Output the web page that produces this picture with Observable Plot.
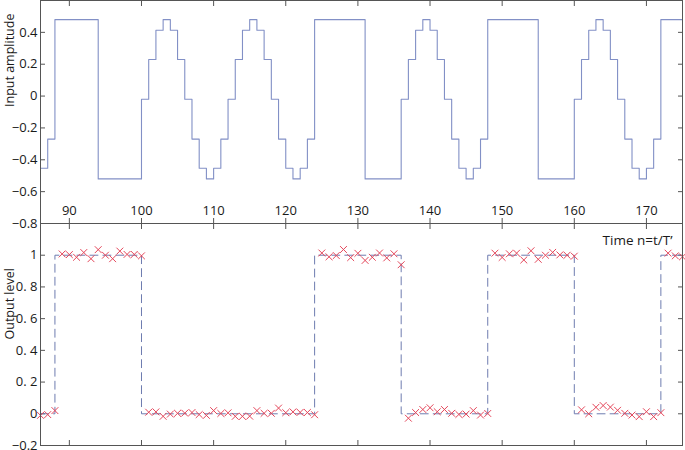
<!DOCTYPE html>
<html><head><meta charset="utf-8">
<script src="https://cdn.jsdelivr.net/npm/d3@7"></script>
<script src="https://cdn.jsdelivr.net/npm/@observablehq/plot@0.6"></script>
<style>
body{margin:0;background:#fff}
#chart svg{display:block}
</style>
</head><body><div id="chart"></div>
<script>
// Input signal (sample-and-hold): change times and held values
const inputTimes = [86, 87, 88, 94, 100, 101, 102, 103, 104, 105, 106, 107, 108, 109, 110, 111,
  112, 113, 114, 115, 116, 117, 118, 119, 120, 121, 122, 123, 124, 131,
  136, 137, 138, 139, 140, 141, 142, 143, 144, 145, 146, 147, 148, 155,
  160, 161, 162, 163, 164, 165, 166, 167, 168, 169, 170, 171, 172, 175];
const inputValues = [-0.453, -0.27, 0.48, -0.52, -0.02, 0.23, 0.413, 0.48, 0.413, 0.23, -0.02, -0.27, -0.453, -0.52, -0.453, -0.27,
  -0.02, 0.23, 0.413, 0.48, 0.413, 0.23, -0.02, -0.27, -0.453, -0.52, -0.453, -0.27, 0.48, -0.52,
  -0.02, 0.23, 0.413, 0.48, 0.413, 0.23, -0.02, -0.27, -0.453, -0.52, -0.453, -0.27, 0.48, -0.52,
  -0.02, 0.23, 0.413, 0.48, 0.413, 0.23, -0.02, -0.27, -0.453, -0.52, -0.453, -0.27, 0.48, 0.48];

// Ideal output level (dashed step)
const outputTimes = [86, 88, 100, 124, 136, 148, 160, 172, 175];
const outputLevels = [0, 1, 0, 1, 0, 1, 0, 1, 1];

// Measured output samples (red crosses)
const sampleTimes = [86, 87, 88, 89, 90, 91, 92, 93, 94, 95, 96, 97, 98, 99, 100,
  101, 102, 103, 104, 105, 106, 107, 108, 109, 110, 111, 112, 113, 114, 115, 116, 117, 118, 119, 120,
  121, 122, 123, 124, 125, 126, 127, 128, 129, 130, 131, 132, 133, 134, 135, 136, 137, 138, 139, 140,
  141, 142, 143, 144, 145, 146, 147, 148, 149, 150, 151, 152, 153, 154, 155, 156, 157, 158, 159, 160,
  161, 162, 163, 164, 165, 166, 167, 168, 169, 170, 171, 172, 173, 174, 175];
const sampleValues = [-0.01, -0.005, 0.02, 1.008, 1.004, 0.987, 1.017, 0.978, 1.035, 1.0, 0.978, 1.026, 1.005, 1.005, 0.996,
  0.01, 0.012, -0.016, -0.002, 0.003, 0.004, 0.008, -0.005, -0.01, 0.02, 0.002, 0.006, -0.016, -0.016, -0.015, 0.02, 0.003, 0.003, 0.036, 0.007,
  0.012, 0.009, 0.008, -0.006, 1.014, 0.99, 0.998, 1.036, 0.985, 1.012, 0.967, 0.987, 1.014, 0.983, 1.009, 0.94, -0.028, 0.008, 0.027, 0.038,
  0.013, 0.027, 0.003, -0.004, -0.002, 0.02, -0.008, 0.002, 1.013, 0.986, 1.009, 1.013, 0.97, 1.028, 0.974, 1.0, 1.018, 1.002, 1.0, 0.994,
  0.025, 0.0, 0.041, 0.052, 0.042, 0.022, 0.003, -0.008, -0.018, 0.013, -0.018, 0.007, 1.013, 0.996, 0.99];

const xTicks = [90, 100, 110, 120, 130, 140, 150, 160, 170];
const inputYTicks = [-0.8, -0.6, -0.4, -0.2, 0, 0.2, 0.4];
const inputYTickLabels = ["−0.8", "−0.6", "−0.4", "−0.2", "0", "0.2", "0.4"];
const outputYTicks = [-0.2, 0, 0.2, 0.4, 0.6, 0.8, 1];
const outputYTickLabels = ["−0.2", "0", "0. 2", "0. 4", "0. 6", "0. 8", "1"];

const FONT = "Open Sans";
const frameColor = "#555";
const inputColor = "#8290c6";
const dashColor = "#6e7cb0";
const crossColor = "#e4465a";

const plotStyle = {fontFamily: FONT, fontSize: "13px", color: "#1a1a1a", overflow: "visible", background: "transparent"};
const W = 685, ML = 40, MR = 3;

const inputData = inputTimes.map((t, i) => ({t, v: inputValues[i]}));
const outputData = outputTimes.map((t, i) => ({t, v: outputLevels[i]}));
const sampleData = sampleTimes.map((t, i) => ({t, v: sampleValues[i]}));

function tickMarks(yTicks) {
  return [
    Plot.axisX(xTicks, {anchor: "top", tickSize: 5, dy: 5, fill: "none", stroke: frameColor}),
    Plot.axisX(xTicks, {anchor: "bottom", tickSize: 5, dy: -5, fill: "none", stroke: frameColor}),
    Plot.axisY(yTicks, {anchor: "left", tickSize: 5, dx: 5, fill: "none", stroke: frameColor}),
    Plot.axisY(yTicks, {anchor: "right", tickSize: 5, dx: -5, fill: "none", stroke: frameColor})
  ];
}

const topPlot = Plot.plot({
  width: W, height: 223,
  marginLeft: ML, marginRight: MR, marginTop: 0, marginBottom: 0,
  style: plotStyle,
  x: {domain: [86, 175]},
  y: {domain: [-0.8, 0.6]},
  marks: [
    ...tickMarks(inputYTicks),
    Plot.axisX(xTicks, {anchor: "bottom", tickSize: 0, dy: -27, label: null, stroke: "none"}),
    Plot.axisY(inputYTicks, {anchor: "left", tickSize: 0, tickPadding: 3, label: null, stroke: "none",
      tickFormat: d => inputYTickLabels[inputYTicks.indexOf(d)]}),
    Plot.line(inputData, {x: "t", y: "v", curve: "step-after", stroke: inputColor, strokeWidth: 1.1}),
    Plot.text(["Input amplitude"], {frameAnchor: "left", rotate: -90, dx: -31, dy: -5, lineAnchor: "middle", fontSize: 12.5, fill: "#1a1a1a"}),
    Plot.frame({stroke: frameColor})
  ]
});

const bottomPlot = Plot.plot({
  width: W, height: 227,
  marginLeft: ML, marginRight: MR, marginTop: 0, marginBottom: 5,
  style: plotStyle,
  x: {domain: [86, 175]},
  y: {domain: [-0.2, 1.2]},
  marks: [
    ...tickMarks(outputYTicks),
    Plot.axisY(outputYTicks, {anchor: "left", tickSize: 0, tickPadding: 3, label: null, stroke: "none",
      tickFormat: d => outputYTickLabels[outputYTicks.indexOf(d)]}),
    Plot.line(outputData, {x: "t", y: "v", curve: "step-after", stroke: dashColor, strokeWidth: 1, strokeDasharray: "8,5"}),
    Plot.dot(sampleData, {x: "t", y: "v", symbol: "times", r: 3.2, stroke: crossColor, strokeWidth: 1}),
    Plot.text(["Time n=t/T\u2019"], {frameAnchor: "top-right", dx: -10, dy: 12, lineAnchor: "top", textAnchor: "end", fontSize: 13.5, fill: "#1a1a1a"}),
    Plot.text(["Output level"], {frameAnchor: "left", rotate: -90, dx: -31, dy: 5, lineAnchor: "middle", fontSize: 12.5, fill: "#1a1a1a"}),
    Plot.frame({stroke: frameColor})
  ]
});

document.getElementById("chart").append(topPlot, bottomPlot);
</script>
</body></html>
